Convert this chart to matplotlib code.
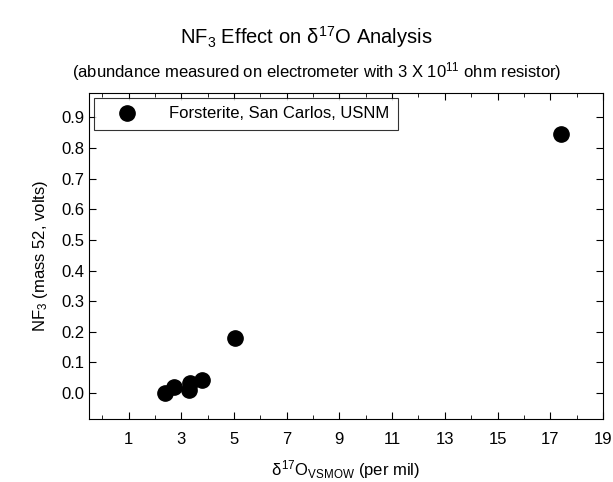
import matplotlib
matplotlib.use("Agg")
import matplotlib.pyplot as plt
from matplotlib.ticker import MultipleLocator

plt.rcParams['font.family'] = ['Liberation Sans', 'DejaVu Sans']
plt.rcParams['mathtext.fontset'] = 'custom'
plt.rcParams['mathtext.rm'] = 'Liberation Sans'
plt.rcParams['mathtext.it'] = 'Liberation Sans'

# Forsterite, San Carlos, USNM
d17o = [2.37, 2.71, 3.28, 3.32, 3.78, 5.03, 17.4]
nf3 = [0.0, 0.02, 0.01, 0.033, 0.043, 0.18, 0.845]

xticks = [1, 3, 5, 7, 9, 11, 13, 15, 17, 19]
yticks = [0.0, 0.1, 0.2, 0.3, 0.4, 0.5, 0.6, 0.7, 0.8, 0.9]

fig = plt.figure(figsize=(6.13, 4.82), dpi=100)
ax = fig.add_axes([89/613, 1 - 419/482, (603-89)/613, (419-93)/482])

ax.plot(d17o, nf3, 'o', color='black', markersize=11, label='Forsterite, San Carlos, USNM')

ax.set_xlim(-0.5, 19)
ax.set_ylim(-0.085, 0.98)
ax.set_xticks(xticks)
ax.set_yticks(yticks)
ax.set_yticklabels(['%.1f' % v for v in yticks])
ax.xaxis.set_minor_locator(MultipleLocator(2))
ax.tick_params(which='both', direction='in', top=True, right=True, labelsize=12)
ax.tick_params(which='major', length=5)
ax.tick_params(which='minor', length=3)
ax.tick_params(axis='x', pad=9)

ax.set_xlabel(r'$\delta^{17}$O$_{\rm VSMOW}$ (per mil)', fontsize=12, labelpad=8)
ax.set_ylabel(r'NF$_3$ (mass 52, volts)', fontsize=12, labelpad=8)

fig.text(0.5, 1 - 37/482, r'NF$_3$ Effect on $\delta^{17}$O Analysis', ha='center', va='center', fontsize=14.5)
fig.text(0.517, 1 - 72/482, r'(abundance measured on electrometer with 3 X 10$^{11}$ ohm resistor)',
         ha='center', va='center', fontsize=12)

leg = ax.legend(loc='upper left', fontsize=12, frameon=True, fancybox=False,
                edgecolor='black', borderpad=0.5, handletextpad=1.0, borderaxespad=0.3,
                handlelength=3.0, numpoints=1)
leg.get_frame().set_linewidth(0.8)

fig.savefig('out.png', dpi=100)
